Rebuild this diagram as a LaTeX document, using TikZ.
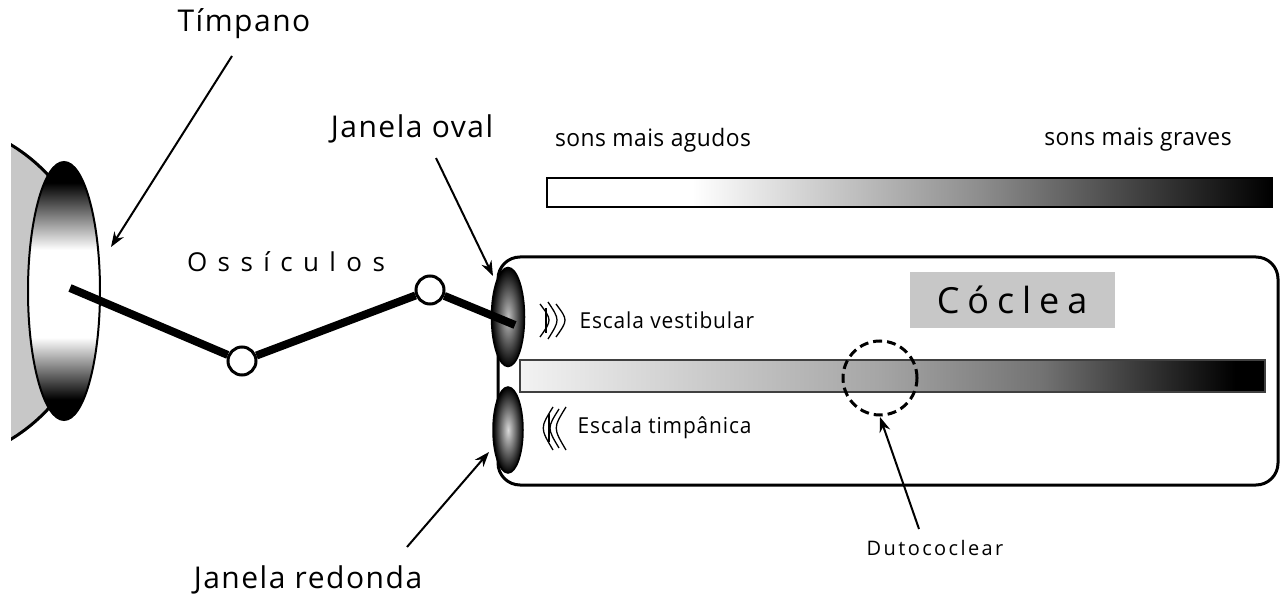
\documentclass[tikz,border=0pt]{standalone}
\usepackage{fontspec}
\setmainfont{Open Sans}
\usetikzlibrary{shapes.geometric,arrows.meta}
% eardrum: dark rims, light middle
\pgfdeclareverticalshading{drumshade}{100bp}{color(0bp)=(black); color(29bp)=(black); color(41bp)=(white); color(58bp)=(white); color(71bp)=(black); color(100bp)=(black)}
% pitch scale: white (high) to black (low)
\pgfdeclarehorizontalshading{pitchramp}{100bp}{color(0bp)=(white); color(35bp)=(white); color(55bp)=(black!45); color(75bp)=(black); color(100bp)=(black)}
% cochlear duct ramp
\pgfdeclarehorizontalshading{ductramp}{100bp}{color(0bp)=(white); color(25bp)=(white!95!black); color(49bp)=(black!35); color(60bp)=(black!55); color(73bp)=(black); color(100bp)=(black)}
\tikzset{
  arr/.style={line width=2, -{Stealth[length=15pt,width=11pt]}},
  bigtxt/.style={font=\fontsize{30}{32}\selectfont\addfontfeature{LetterSpace=5}},
  scaletxt/.style={font=\fontsize{24}{26}\selectfont\addfontfeature{FakeStretch=0.95,LetterSpace=2}},
  scalatxt/.style={font=\fontsize{22}{24}\selectfont\addfontfeature{FakeStretch=0.95,LetterSpace=4}},
  dutotxt/.style={font=\fontsize{20}{22}\selectfont\addfontfeature{LetterSpace=12}},
  bone/.style={line width=8},
  joint/.style={circle, draw, line width=3, fill=white, minimum size=28, inner sep=0},
  window/.style={ellipse, draw, line width=1.5, inner sep=0},
  icon/.style={line width=1.3},
}
\begin{document}
\begin{tikzpicture}[x=1pt,y=-1pt]
\useasboundingbox[fill=white] (0,0) rectangle (1281,601);

% outer ear (partial disc)
\begin{scope}
  \clip (11,0) rectangle (200,601);
  \draw[line width=3, fill=black!22] (-78,292) circle[radius=172];
\end{scope}

% eardrum
\node[ellipse, draw, line width=2, minimum width=72, minimum height=258, inner sep=0, shade, shading=drumshade] (drum) at (64,291) {};

% pitch scale bar
\node[draw, line width=2, minimum width=725, minimum height=29, inner sep=0, shade, shading=pitchramp] (pitch) at (909.5,192.5) {};
\node[scaletxt] (agudos) at (653,140) {sons mais agudos};
\node[scaletxt] (graves) at (1138,140) {sons mais graves};

% cochlea body
\node[draw, line width=3, rounded corners=22, minimum width=780, minimum height=228, inner sep=0] (coch) at (888,371) {};
\node[fill=black!22, minimum width=205, minimum height=55, inner sep=0,
      font=\fontsize{36}{38}\selectfont\addfontfeature{LetterSpace=22}] (cocleatxt) at (1012,300) {Cóclea};

% cochlear duct
\node[draw=black!75, line width=2, minimum width=745, minimum height=32, inner sep=0, shade, shading=ductramp] (duct) at (892.5,376) {};
\node[circle, draw, line width=3, dash pattern=on 9pt off 5pt, minimum size=74, inner sep=0] (dc) at (880,378) {};

% windows
\node[window, inner color=black!25, outer color=black, minimum width=33, minimum height=99] (oval) at (508,317) {};
\node[window, inner color=white!85!black, outer color=black, minimum width=30, minimum height=86] (round) at (508,430) {};

% ossicular chain
\coordinate (o0) at (70,288);
\coordinate (o3) at (515,325);
\node[joint] (m1) at (242,361) {};
\node[joint] (m2) at (430,290) {};
\draw[bone] (o0) -- (m1);
\draw[bone] (m1) -- (m2);
\draw[bone] (m2) -- (o3);
\node[font=\fontsize{26}{30}\selectfont\addfontfeature{LetterSpace=40}] (ossic) at (286,262) {Ossículos};

% scala symbols and labels
\draw[icon] (540,304) .. controls (552,320) .. (540,337);
\draw[icon] (548,302) .. controls (560,320) .. (548,339);
\draw[icon] (556,304) .. controls (568,320) .. (556,337);
\draw[icon] (546,308) -- (546,333);
\node[scalatxt, anchor=west] (vest) at (576,320) {Escala vestibular};
\draw[icon] (553,407) .. controls (540,428) .. (553,450);
\draw[icon] (559,409) .. controls (547,428) .. (559,448);
\draw[icon] (566,407) .. controls (553,428) .. (566,450);
\draw[icon] (549,414) -- (549,442);
\node[scalatxt, anchor=west] (timp) at (574,428) {Escala timpânica};

% labels with pointers
\node[bigtxt] (timpano) at (244,24) {Tímpano};
\coordinate (timpanoA) at (232,56);
\coordinate (timpanoB) at (111,247);
\draw[arr] (timpanoA) -- (timpanoB);

\node[bigtxt] (janoval) at (412,129) {Janela oval};
\coordinate (ovalA) at (436,158);
\coordinate (ovalB) at (493,276);
\draw[arr] (ovalA) -- (ovalB);

\node[bigtxt] (janred) at (308,580) {Janela redonda};
\coordinate (redA) at (407,547);
\coordinate (redB) at (489,452);
\draw[arr] (redA) -- (redB);

\node[dutotxt] (duto) at (935,548) {Dutococlear};
\coordinate (dutoA) at (919,529);
\coordinate (dutoB) at (880,417);
\draw[arr] (dutoA) -- (dutoB);
\end{tikzpicture}
\end{document}
